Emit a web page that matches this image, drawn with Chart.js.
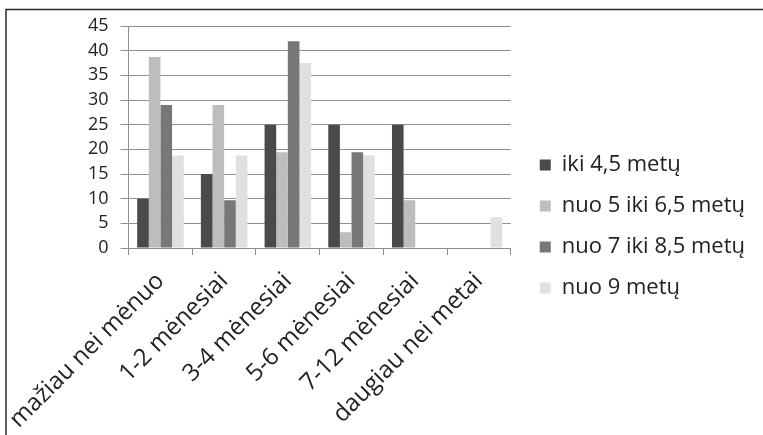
<!DOCTYPE html>
<html>
<head>
<meta charset="utf-8">
<script src="https://cdn.jsdelivr.net/npm/chart.js@4/dist/chart.umd.min.js"></script>
<style>
  html, body { margin: 0; padding: 0; background: #fff; }
  #wrap { width: 763px; height: 435px; }
</style>
</head>
<body>
<div id="wrap"><canvas id="c" width="763" height="435"></canvas></div>
<script>
// Apklausos duomenys (procentais)
const categories = ['mažiau nei mėnuo', '1-2 mėnesiai', '3-4 mėnesiai', '5-6 mėnesiai', '7-12 mėnesiai', 'daugiau nei metai'];
const seriesNames = ['iki 4,5 metų', 'nuo 5 iki 6,5 metų', 'nuo 7 iki 8,5 metų', 'nuo 9 metų'];
const iki45 = [10, 15, 25, 25, 25, 0];
const nuo5iki65 = [38.7, 29, 19.4, 3.2, 9.7, 0];
const nuo7iki85 = [29, 9.7, 41.9, 19.4, 0, 0];
const nuo9 = [18.75, 18.75, 37.5, 18.75, 0, 6.25];
const yTicks = [0, 5, 10, 15, 20, 25, 30, 35, 40, 45];

const colors = ['#4a4a4a', '#bdbdbd', '#777777', '#e0e0e0'];
const values = [iki45, nuo5iki65, nuo7iki85, nuo9];

const FONT = '"Open Sans", "DejaVu Sans", sans-serif';
const TEXT = '#222222';
const GRID = '#8f8f8f';

// Rėmelis: viršutinė ir kairioji linija
const framePlugin = {
  id: 'frame',
  beforeDraw(chart) {
    const ctx = chart.ctx;
    ctx.save();
    ctx.fillStyle = '#ffffff';
    ctx.fillRect(0, 0, chart.width, chart.height);
    ctx.strokeStyle = '#2b2b2b';
    ctx.lineWidth = 1.5;
    ctx.beginPath();
    ctx.moveTo(6, chart.height);
    ctx.lineTo(6, 9.5);
    ctx.lineTo(chart.width, 9.5);
    ctx.stroke();
    ctx.restore();
  }
};

new Chart(document.getElementById('c'), {
  type: 'bar',
  data: {
    labels: categories,
    datasets: seriesNames.map((name, i) => ({
      label: name,
      data: values[i],
      backgroundColor: colors[i],
      borderWidth: 0,
      barPercentage: 1.0,
      categoryPercentage: 0.73
    }))
  },
  options: {
    responsive: false,
    animation: false,
    devicePixelRatio: 1,
    layout: { padding: { left: 76, top: 26, right: 8, bottom: 8 } },
    plugins: {
      legend: {
        position: 'right',
        align: 'center',
        maxWidth: 300,
        labels: {
          font: { family: FONT, size: 22 },
          color: TEXT,
          boxWidth: 11,
          boxHeight: 11,
          padding: 19
        }
      },
      tooltip: { enabled: false }
    },
    scales: {
      x: {
        offset: true,
        afterFit(scale) {
          scale.height = 179;
          scale.paddingLeft = 0;
          scale.paddingRight = 0;
        },
        grid: {
          display: true,
          drawOnChartArea: false,
          drawTicks: true,
          tickLength: 7,
          color: GRID,
          offset: true
        },
        border: { display: true, color: GRID, width: 1 },
        ticks: {
          font: { family: FONT, size: 24 },
          color: TEXT,
          maxRotation: 45,
          minRotation: 45,
          padding: 12,
          autoSkip: false
        }
      },
      y: {
        min: 0,
        max: 45,
        afterBuildTicks(scale) { scale.ticks = yTicks.map(v => ({ value: v })); },
        grid: {
          color: GRID,
          tickLength: 8,
          lineWidth: 1
        },
        border: { display: true, color: GRID, width: 1 },
        ticks: {
          font: { family: FONT, size: 18 },
          color: TEXT,
          padding: 12
        }
      },
      // tarpas tarp braižymo srities ir legendos
      gap: {
        position: 'right',
        display: true,
        afterFit(scale) { scale.width = 10; },
        grid: { display: false, drawTicks: false },
        border: { display: false },
        ticks: { display: false }
      }
    }
  },
  plugins: [framePlugin]
});
</script>
</body>
</html>
